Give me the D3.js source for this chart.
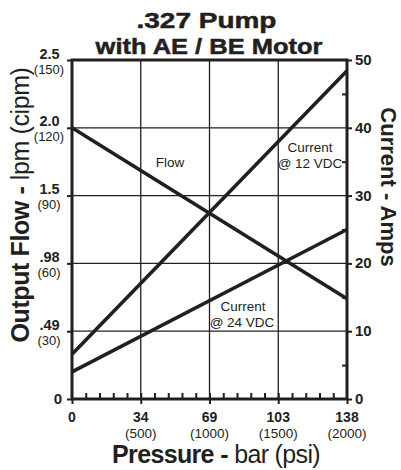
<!DOCTYPE html>
<html>
<head>
<meta charset="utf-8">
<script src="https://cdn.jsdelivr.net/npm/d3@7"></script>
<style>
  body { margin: 0; background: #fff; }
  svg text { font-family: "Liberation Sans", Arial, Helvetica, sans-serif; fill: #231f20; }
</style>
</head>
<body>
<svg id="chart" width="401" height="470"></svg>
<script>
// pressure in bar, ends of each straight curve
var pressure = [0, 138];
var flowLpm = [2.0, 0.74];
var amps12 = [6.6, 48.4];
var amps24 = [4.0, 25.0];

var barLabels = ['0', '34', '69', '103', '138'];
var psiTicks = [0, 500, 1000, 1500, 2000];
var lpmLabels = ['0', '.49', '.98', '1.5', '2.0', '2.5'];
var cipmTicks = [0, 30, 60, 90, 120, 150];
var ampTicks = [0, 10, 20, 30, 40, 50];

var svg = d3.select('#chart');
var ink = '#231f20';

var x = d3.scaleLinear().domain([0, 138]).range([72, 347]);
var xPsi = d3.scaleLinear().domain([0, 2000]).range([72, 347]);
var yFlow = d3.scaleLinear().domain([0, 2.5]).range([399, 60]);
var yCipm = d3.scaleLinear().domain([0, 150]).range([399, 60]);
var yAmp = d3.scaleLinear().domain([0, 50]).range([399, 60]);

// grid
var grid = svg.append('g').attr('stroke', ink).attr('stroke-width', 1.3);
grid.selectAll('line.h').data(cipmTicks.slice(1, 5)).enter().append('line')
    .attr('x1', x(0)).attr('x2', x(138))
    .attr('y1', function(d){ return yCipm(d); }).attr('y2', function(d){ return yCipm(d); });
grid.selectAll('line.v').data(psiTicks.slice(1, 4)).enter().append('line')
    .attr('y1', yAmp(0)).attr('y2', yAmp(50))
    .attr('x1', function(d){ return xPsi(d); }).attr('x2', function(d){ return xPsi(d); });

// axes, ticks only
var bottomMinor = d3.axisBottom(xPsi).tickValues(d3.range(100, 2000, 100)).tickSize(-6).tickFormat('');
var bottomMajor = d3.axisBottom(xPsi).tickValues(psiTicks).tickSize(5).tickFormat('');
var leftMajor = d3.axisLeft(yCipm).tickValues(cipmTicks).tickSize(5).tickFormat('');
var rightMinor = d3.axisRight(yAmp).tickValues(d3.range(5, 50, 10)).tickSize(-5).tickFormat('');
var rightMajor = d3.axisRight(yAmp).tickValues(ampTicks).tickSize(5).tickFormat('');

function axis(gen, tx, ty) {
  var g = svg.append('g').attr('transform', 'translate(' + tx + ',' + ty + ')').call(gen);
  g.select('.domain').remove();
  g.selectAll('line').attr('stroke', ink).attr('stroke-width', 2);
  return g;
}
axis(bottomMinor, 0, yAmp(0));
axis(bottomMajor, 0, yAmp(0));
axis(leftMajor, x(0), 0);
axis(rightMinor, x(138), 0);
axis(rightMajor, x(138), 0);

// frame
svg.append('rect')
    .attr('x', x(0)).attr('y', yAmp(50))
    .attr('width', x(138) - x(0)).attr('height', yAmp(0) - yAmp(50))
    .attr('fill', 'none').attr('stroke', ink).attr('stroke-width', 3);

// data lines
function curve(vals, scale) {
  return d3.line()
    .x(function(d, i){ return x(pressure[i]); })
    .y(function(d){ return scale(d); })(vals);
}
[[flowLpm, yFlow], [amps12, yAmp], [amps24, yAmp]].forEach(function(s) {
  svg.append('path').attr('d', curve(s[0], s[1]))
      .attr('fill', 'none').attr('stroke', ink).attr('stroke-width', 3.6);
});

// left tick labels
cipmTicks.forEach(function(c, i) {
  var y = yCipm(c);
  if (i === 0) {
    svg.append('text').attr('x', 62).attr('y', y + 5).attr('text-anchor', 'end')
        .attr('font-size', 15).attr('font-weight', 'bold').text('0');
    return;
  }
  svg.append('text').attr('x', 49.5).attr('y', y - 1.5).attr('text-anchor', 'middle')
      .attr('font-size', 14.5).attr('font-weight', 'bold').text(lpmLabels[i]);
  svg.append('text').attr('x', 49).attr('y', y + 13.5).attr('text-anchor', 'middle')
      .attr('font-size', 13).text('(' + c + ')');
});

// right tick labels
ampTicks.forEach(function(a) {
  svg.append('text').attr('x', 355).attr('y', yAmp(a) + 5)
      .attr('font-size', 15).attr('font-weight', 'bold').text(a);
});

// bottom tick labels
psiTicks.forEach(function(p, i) {
  svg.append('text').attr('x', xPsi(p)).attr('y', 422).attr('text-anchor', 'middle')
      .attr('font-size', 14).attr('font-weight', 'bold').text(barLabels[i]);
  if (i > 0) {
    svg.append('text').attr('x', xPsi(p)).attr('y', 437.5).attr('text-anchor', 'middle')
        .attr('font-size', 13.5).text('(' + p + ')');
  }
});

// titles: heavy wide face, widened to the reference width
function wideTitle(str, cx, y, size, width) {
  var t = svg.append('text').attr('text-anchor', 'middle')
      .attr('font-size', size).attr('font-weight', 'bold')
      .attr('stroke', ink).attr('stroke-width', 0.5).text(str);
  var w = t.node().getComputedTextLength();
  t.attr('transform', 'translate(' + cx + ',' + y + ') scale(' + (width / w) + ',1)');
}
wideTitle('.327 Pump', 206.5, 27.5, 22.5, 140);
wideTitle('with AE / BE Motor', 209, 54, 22.5, 227);

var xt = svg.append('text').attr('x', 216).attr('y', 463).attr('text-anchor', 'middle')
    .attr('font-size', 25).attr('letter-spacing', -0.65);
xt.append('tspan').attr('font-weight', 'bold').text('Pressure - ');
xt.append('tspan').text('bar (psi)');

var yt = svg.append('text').attr('transform', 'translate(29,205) rotate(-90)')
    .attr('text-anchor', 'middle').attr('font-size', 25).attr('letter-spacing', -0.4);
yt.append('tspan').attr('font-weight', 'bold').text('Output Flow - ');
yt.append('tspan').text('lpm (cipm)');

svg.append('text').attr('transform', 'translate(381,187) rotate(90)')
    .attr('text-anchor', 'middle').attr('font-size', 22).attr('font-weight', 'bold')
    .text('Current - Amps');

// curve labels
var notes = [
  { t: 'Flow', x: 170, y: 167 },
  { t: 'Current', x: 310, y: 152 },
  { t: '@ 12 VDC', x: 310, y: 168 },
  { t: 'Current', x: 243, y: 311 },
  { t: '@ 24 VDC', x: 242, y: 327 }
];
notes.forEach(function(n) {
  svg.append('text').attr('x', n.x).attr('y', n.y).attr('text-anchor', 'middle')
      .attr('font-size', 13.5).text(n.t);
});
</script>
</body>
</html>
